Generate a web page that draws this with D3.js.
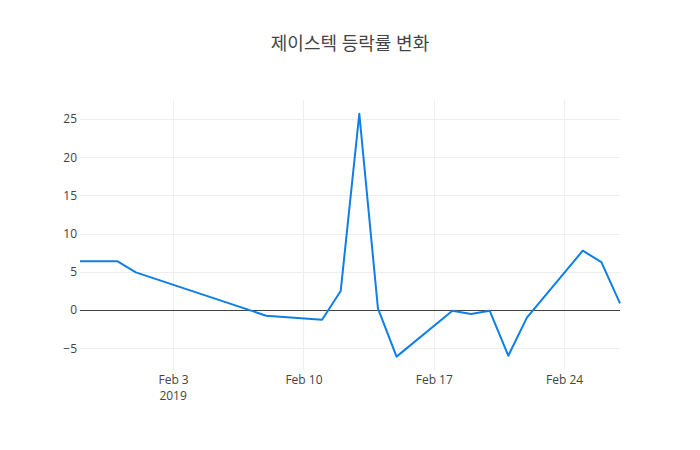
<!DOCTYPE html>
<html>
<head>
<meta charset="utf-8">
<script src="https://cdn.jsdelivr.net/npm/d3@7"></script>
<style>
  body { margin: 0; background: #fff; }
  text { font-family: "Open Sans", "Noto Sans CJK KR", sans-serif; fill: #444; }
</style>
</head>
<body>
<div id="chart"></div>
<script>
// daily change rate (%)
const dates = ["2019-01-29", "2019-01-30", "2019-01-31", "2019-02-01", "2019-02-08",
    "2019-02-11", "2019-02-12", "2019-02-13", "2019-02-14", "2019-02-15",
    "2019-02-18", "2019-02-19", "2019-02-20", "2019-02-21", "2019-02-22",
    "2019-02-25", "2019-02-26", "2019-02-27"];
const rates = [6.4, 6.4, 6.4, 4.93, -0.74,
    -1.27, 2.49, 25.7, 0.22, -6.1,
    -0.09, -0.52, -0.09, -5.98, -1.0,
    7.77, 6.28, 0.87];
const yTicks = [-5, 0, 5, 10, 15, 20, 25];
const xTicks = ["2019-02-03", "2019-02-10", "2019-02-17", "2019-02-24"];

const width = 700;
const height = 450;
const margin = { top: 100, right: 80, bottom: 80, left: 80 };
const parse = d3.timeParse("%Y-%m-%d");

const data = dates.map((d, i) => ({ date: parse(d), value: rates[i] }));

const svg = d3.select("#chart")
    .append("svg")
    .attr("width", width)
    .attr("height", height);

const x = d3.scaleTime()
    .domain(d3.extent(data, d => d.date))
    .range([margin.left, width - margin.right]);

const y = d3.scaleLinear()
    .domain([-7.85, 27.5])
    .range([height - margin.bottom, margin.top]);

// grid lines
svg.append("g")
    .selectAll("line.vgrid")
    .data(xTicks.map(parse))
    .enter().append("line")
    .attr("x1", d => Math.round(x(d)) + 0.5).attr("x2", d => Math.round(x(d)) + 0.5)
    .attr("y1", margin.top).attr("y2", height - margin.bottom)
    .attr("stroke", "#eee");

svg.append("g")
    .selectAll("line.hgrid")
    .data(yTicks.filter(d => d !== 0))
    .enter().append("line")
    .attr("x1", margin.left).attr("x2", width - margin.right)
    .attr("y1", d => Math.round(y(d)) + 0.5).attr("y2", d => Math.round(y(d)) + 0.5)
    .attr("stroke", "#eee");

// zero line
svg.append("line")
    .attr("x1", margin.left).attr("x2", width - margin.right)
    .attr("y1", Math.round(y(0)) + 0.5).attr("y2", Math.round(y(0)) + 0.5)
    .attr("stroke", "#444")
    .attr("stroke-width", 1);

// y axis labels
const yAxis = svg.append("g")
    .attr("transform", `translate(${margin.left},0)`)
    .call(d3.axisLeft(y).tickValues(yTicks).tickSize(0).tickPadding(3)
        .tickFormat(d => d < 0 ? "\u2212" + Math.abs(d) : d));
yAxis.select(".domain").remove();
yAxis.selectAll("text").style("font-size", "12px").attr("fill", "#444");

// x axis labels
const xAxis = svg.append("g")
    .attr("transform", `translate(0,${height - margin.bottom})`)
    .call(d3.axisBottom(x).tickValues(xTicks.map(parse)).tickSize(0).tickPadding(5)
        .tickFormat(d3.timeFormat("%b %-d")));
xAxis.select(".domain").remove();
xAxis.selectAll("text").style("font-size", "12px").attr("fill", "#444");

// year label under first tick
svg.append("text")
    .attr("x", x(parse(xTicks[0])))
    .attr("y", height - margin.bottom + 30)
    .attr("text-anchor", "middle")
    .style("font-size", "12px")
    .text("2019");

// the line
const line = d3.line()
    .x(d => x(d.date))
    .y(d => y(d.value));

svg.append("path")
    .datum(data)
    .attr("d", line)
    .attr("fill", "none")
    .attr("stroke", "#0f7ee6")
    .attr("stroke-width", 2)
    .attr("stroke-linejoin", "round");

// title
svg.append("text")
    .attr("x", width / 2)
    .attr("y", 50)
    .attr("text-anchor", "middle")
    .style("font-size", "18px")
    .text("제이스텍 등락률 변화");
</script>
</body>
</html>
